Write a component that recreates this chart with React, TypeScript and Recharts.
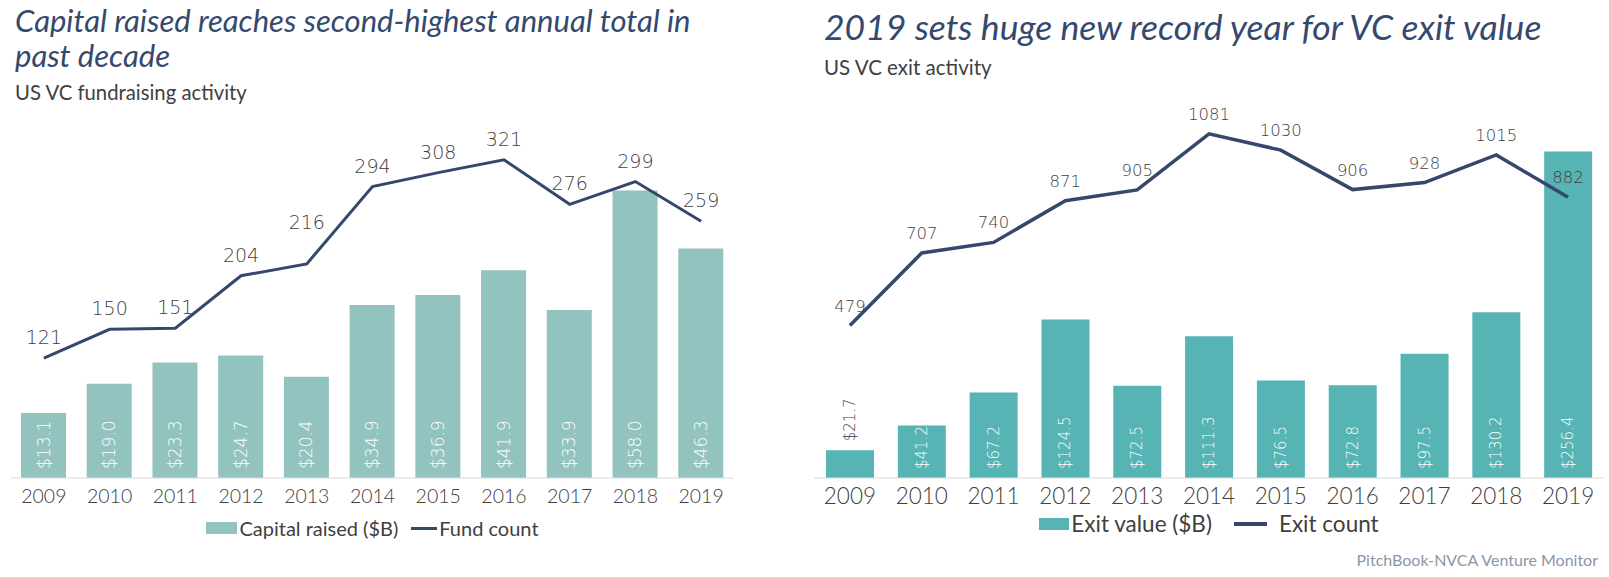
import React from 'react';
import { ComposedChart, Bar, Line, XAxis, YAxis, LabelList, Legend } from 'recharts';

const years = ['2009', '2010', '2011', '2012', '2013', '2014', '2015', '2016', '2017', '2018', '2019'];
const capitalRaised = [13.1, 19.0, 23.3, 24.7, 20.4, 34.9, 36.9, 41.9, 33.9, 58.0, 46.3];
const fundCount = [121, 150, 151, 204, 216, 294, 308, 321, 276, 299, 259];
const exitValue = [21.7, 41.2, 67.2, 124.5, 72.5, 111.3, 76.5, 72.8, 97.5, 130.2, 256.4];
const exitCount = [479, 707, 740, 871, 905, 1081, 1030, 906, 928, 1015, 882];

const leftData = years.map((y, i) => ({ year: y, capital: capitalRaised[i], funds: fundCount[i] }));
const rightData = years.map((y, i) => ({ year: y, value: exitValue[i], count: exitCount[i] }));

const LEFT_LINE_MAX = 350;
const RIGHT_LINE_MAX = 1200;

const LINE = '#35486c';
const BAR_L = '#93c3bf';
const BAR_R = '#56b4b5';
const TXT = '#404040';
const TITLE = '#34496d';
const LABEL_FONT = '"DejaVu Sans", sans-serif';

function makeBarLabel(fontSize: number) {
  return (props: any) => {
    const x = Number(props.x);
    const y = Number(props.y);
    const width = Number(props.width);
    const height = Number(props.height);
    const text = '$' + Number(props.value).toFixed(1);
    const len = text.length * 0.58 * fontSize;
    const cx = x + width / 2;
    const inside = height >= len + 4;
    const by = inside ? y + height - 9 : y - 9;
    return (
      <text
        x={cx}
        y={by}
        transform={`rotate(-90 ${cx} ${by})`}
        textAnchor="start"
        dominantBaseline="central"
        fill={inside ? '#ffffff' : TXT}
        fontSize={fontSize}
        fontFamily={LABEL_FONT}
        fontWeight={200}
      >
        {text}
      </text>
    );
  };
}

// Line value labels sit above each point; a label is lifted clear of a steeply rising next segment.
function makeLineLabel(values: number[], domainMax: number, fontSize: number, offset: number) {
  return (props: any) => {
    const x = Number(props.x);
    const y = Number(props.y);
    const i = Number(props.index);
    const next = values[i + 1];
    const steep = next !== undefined && (next - values[i]) / domainMax > 0.2;
    const ty = y - offset - (steep ? 21 : 0);
    return (
      <text x={x} y={ty} textAnchor="middle" fill={TXT} fontSize={fontSize} fontFamily={LABEL_FONT} fontWeight={200}>
        {props.value}
      </text>
    );
  };
}

const LeftLegend = () => (
  <div style={{ display: 'flex', justifyContent: 'center', alignItems: 'center', fontFamily: 'Lato', fontSize: 20, color: TXT, lineHeight: '24px' }}>
    <span style={{ display: 'inline-block', width: 31, height: 12, background: BAR_L, marginRight: 2 }} />
    <span>Capital raised ($B)</span>
    <span style={{ display: 'inline-block', width: 26, height: 3, background: LINE, marginLeft: 13, marginRight: 2 }} />
    <span>Fund count</span>
  </div>
);

const RightLegend = () => (
  <div style={{ display: 'flex', justifyContent: 'center', alignItems: 'center', fontFamily: 'Lato', fontSize: 22.5, color: TXT, lineHeight: '26px' }}>
    <span style={{ display: 'inline-block', width: 30, height: 12, background: BAR_R, marginRight: 2 }} />
    <span>Exit value ($B)</span>
    <span style={{ display: 'inline-block', width: 33, height: 4, background: LINE, marginLeft: 22, marginRight: 12 }} />
    <span>Exit count</span>
  </div>
);

const titleStyle: React.CSSProperties = { position: 'absolute', fontStyle: 'italic', color: TITLE, whiteSpace: 'nowrap' };

export default function App() {
  return (
    <div style={{ position: 'absolute', left: 0, top: 0, width: 1609, height: 577, background: '#fff', fontFamily: 'Lato', overflow: 'hidden' }}>
      <div style={{ ...titleStyle, left: 15, top: 5, fontSize: 31, lineHeight: '31px' }}>
        Capital raised reaches second-highest annual total in
      </div>
      <div style={{ ...titleStyle, left: 15, top: 40, fontSize: 31, lineHeight: '31px' }}>
        past decade
      </div>
      <div style={{ position: 'absolute', left: 15, top: 80, fontSize: 20.3, lineHeight: '24px', color: TXT }}>
        US VC fundraising activity
      </div>
      <div style={{ ...titleStyle, left: 824, top: 9, fontSize: 35.5, lineHeight: '36px' }}>
        2019 sets huge new record year for VC exit value
      </div>
      <div style={{ position: 'absolute', left: 824, top: 55, fontSize: 20.5, lineHeight: '24px', color: TXT }}>
        US VC exit activity
      </div>
      <div style={{ position: 'absolute', right: 11, top: 550, fontSize: 16, lineHeight: '20px', color: '#8a96a8' }}>
        PitchBook-NVCA Venture Monitor
      </div>

      <div style={{ position: 'absolute', left: 0, top: 0 }}>
        <ComposedChart width={760} height={577} data={leftData} margin={{ top: 131, right: 26, bottom: 69, left: 11 }}>
          <XAxis
            dataKey="year"
            interval={0}
            tickLine={false}
            tickSize={0}
            tickMargin={11}
            height={30}
            axisLine={{ stroke: '#d9d9d9' }}
            tick={{ fill: TXT, fontSize: 19.5, fontFamily: 'Lato', fontWeight: 300 }}
          />
          <YAxis yAxisId="bar" domain={[0, 70]} hide />
          <YAxis yAxisId="line" domain={[0, LEFT_LINE_MAX]} hide />
          <Bar yAxisId="bar" dataKey="capital" name="Capital raised ($B)" fill={BAR_L} barSize={45} isAnimationActive={false}>
            <LabelList dataKey="capital" content={makeBarLabel(17)} />
          </Bar>
          <Line yAxisId="line" type="linear" dataKey="funds" name="Fund count" stroke={LINE} strokeWidth={3} dot={false} activeDot={false} isAnimationActive={false}>
            <LabelList dataKey="funds" content={makeLineLabel(fundCount, LEFT_LINE_MAX, 19, 14)} />
          </Line>
          <Legend verticalAlign="middle" align="center" layout="horizontal" content={<LeftLegend />} wrapperStyle={{ top: 516, left: 11, width: 723 }} />
        </ComposedChart>
      </div>

      <div style={{ position: 'absolute', left: 780, top: 0 }}>
        <ComposedChart width={829} height={577} data={rightData} margin={{ top: 96, right: 5, bottom: 69, left: 34 }}>
          <XAxis
            dataKey="year"
            interval={0}
            tickLine={false}
            tickSize={0}
            tickMargin={10}
            height={30}
            axisLine={{ stroke: '#d9d9d9' }}
            tick={{ fill: TXT, fontSize: 22.5, fontFamily: 'Lato', fontWeight: 300 }}
          />
          <YAxis yAxisId="bar" domain={[0, 300]} hide />
          <YAxis yAxisId="line" domain={[0, RIGHT_LINE_MAX]} hide />
          <Bar yAxisId="bar" dataKey="value" name="Exit value ($B)" fill={BAR_R} barSize={48} isAnimationActive={false}>
            <LabelList dataKey="value" content={makeBarLabel(15)} />
          </Bar>
          <Line yAxisId="line" type="linear" dataKey="count" name="Exit count" stroke={LINE} strokeWidth={3.5} dot={false} activeDot={false} isAnimationActive={false}>
            <LabelList dataKey="count" content={makeLineLabel(exitCount, RIGHT_LINE_MAX, 16.5, 14)} />
          </Line>
          <Legend verticalAlign="middle" align="center" layout="horizontal" content={<RightLegend />} wrapperStyle={{ top: 511, left: 34, width: 790 }} />
        </ComposedChart>
      </div>
    </div>
  );
}
